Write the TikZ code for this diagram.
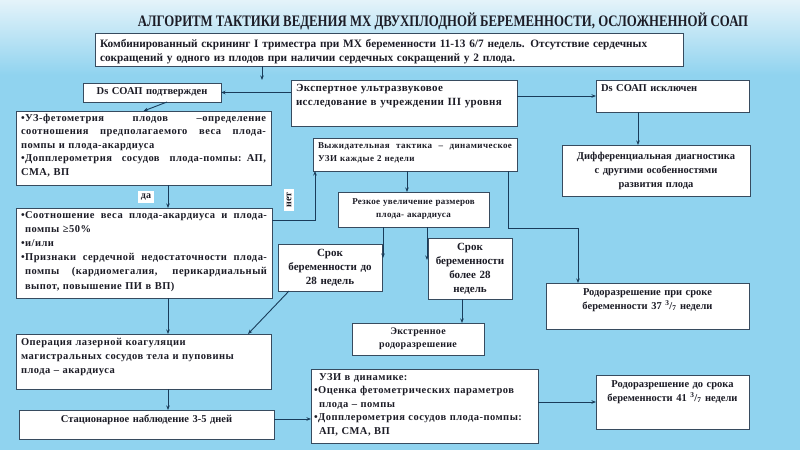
\documentclass[tikz,border=0pt]{standalone}
\usepackage{fontspec}
\setmainfont{Liberation Serif}
\newfontfamily\titlefont{Liberation Serif}[FakeStretch=0.8]
\usetikzlibrary{arrows.meta,calc}
\definecolor{bgblue}{RGB}{144,211,239}
\definecolor{bglight}{RGB}{228,243,250}
\definecolor{edge}{RGB}{55,75,95}
\definecolor{arr}{RGB}{25,60,90}
\definecolor{ink}{RGB}{28,28,38}
\newcommand\jline[2][0pt]{\leavevmode\hbox to \dimexpr\mytw pt-#1\relax{\spaceskip=.28em plus 1fil\relax #2}}
\newcommand\mkbox[8]{%
  \pgfmathsetmacro\mybw{#4-#2}\pgfmathsetmacro\mybh{#5-#3}\pgfmathsetmacro\mytw{#4-#2-10}%
  \node[boxst, minimum width=\mybw pt, minimum height=\mybh pt, anchor=north west] (#1) at (#2,#3) {};
  \node[txt, text width=\mytw pt, anchor=#6, #7] (#1-t) at (#1.#6) {#8};}
\begin{document}
\begin{tikzpicture}[x=1pt,y=-1pt,
  boxst/.style={draw=edge, line width=0.7pt, fill=white, inner sep=0pt, outer sep=0pt},
  txt/.style={inner sep=0pt, font=\bfseries\fontsize{10}{13}\selectfont, text=ink, align=left},
  spaced/.style={font=\bfseries\fontsize{10.5}{#1}\selectfont\addfontfeature{LetterSpace=4.5}},
  conn/.style={draw=arr, line width=0.9pt, -{Stealth[length=4.5pt,width=3.5pt]}},
  lbl/.style={fill=white, inner sep=3pt, text=ink, font=\bfseries\fontsize{10}{11}\selectfont}]
\fill[bgblue] (0,0) rectangle (800,450);
\shade[top color=bglight, bottom color=bgblue] (0,0) rectangle (800,75);
\useasboundingbox (0,0) rectangle (800,450);

\node[text=ink, font=\titlefont\bfseries\fontsize{16}{18}\selectfont] (title) at (443,21)
  {АЛГОРИТМ ТАКТИКИ ВЕДЕНИЯ МХ ДВУХПЛОДНОЙ БЕРЕМЕННОСТИ, ОСЛОЖНЕННОЙ СОАП};

\mkbox{screen}{95}{33}{683}{66}{north}{yshift=-6pt, font=\bfseries\fontsize{11.3}{14}\selectfont}
  {Комбинированный скрининг I триместра при МХ беременности 11-13 6/7 недель. Отсутствие сердечных\\сокращений у одного из плодов при наличии сердечных сокращений у 2 плода.}
\mkbox{expert}{291}{80}{517}{126}{north}{yshift=-4pt, font=\bfseries\fontsize{11}{14}\selectfont\addfontfeature{LetterSpace=3.5}}
  {Экспертное ультразвуковое\\исследование в учреждении III уровня}
\mkbox{dsy}{83}{83}{221}{102}{center}{align=center, font=\bfseries\fontsize{10.5}{13}\selectfont}
  {Ds СОАП подтвержден}
\mkbox{dsn}{596}{80}{749}{112}{north}{yshift=-4pt, font=\bfseries\fontsize{10.5}{13}\selectfont}
  {Ds СОАП исключен}
\mkbox{diff}{562}{145}{750}{196}{center}{align=center, font=\bfseries\fontsize{10.5}{14}\selectfont}
  {Дифференциальная диагностика\\с другими особенностями\\развития плода}
\mkbox{uz}{16}{111}{271}{185}{north}{yshift=-3pt, spaced=13.5}
  {\jline{•УЗ-фетометрия плодов –определение}\\
   \jline{соотношения предполагаемого веса плода-}\\
   помпы и плода-акардиуса\\
   \jline{•Допплерометрия сосудов плода-помпы: АП,}\\
   СМА, ВП}
\mkbox{ratio}{16}{208}{272}{298}{north}{yshift=-3pt, spaced=14.2}
  {\jline{•Соотношение веса плода-акардиуса и плода-}\\
   \hspace*{4pt}помпы ≥50\%\\
   •и/или\\
   \jline{•Признаки сердечной недостаточности плода-}\\
   \hspace*{4pt}\jline[4pt]{помпы (кардиомегалия, перикардиальный}\\
   \hspace*{4pt}выпот, повышение ПИ в ВП)}
\mkbox{wait}{313}{138}{517}{171}{north}{yshift=-4pt, font=\bfseries\fontsize{9}{13}\selectfont\addfontfeature{LetterSpace=5}}
  {\jline{Выжидательная тактика – динамическое}\\УЗИ каждые 2 недели}
\mkbox{sharp}{338}{192}{489}{227}{center}{align=center, font=\bfseries\fontsize{9}{13}\selectfont\addfontfeature{LetterSpace=3}}
  {Резкое увеличение размеров\\плода- акардиуса}
\mkbox{lt28}{278}{244}{382}{291}{center}{align=center, font=\bfseries\fontsize{11}{14}\selectfont}
  {Срок\\беременности до\\28 недель}
\mkbox{gt28}{428}{238}{512}{299}{center}{align=center, font=\bfseries\fontsize{11}{14}\selectfont}
  {Срок\\беременности\\более 28\\недель}
\mkbox{emerg}{352}{323}{484}{355}{center}{align=center, font=\bfseries\fontsize{10}{13}\selectfont\addfontfeature{LetterSpace=3}}
  {Экстренное\\родоразрешение}
\mkbox{dlate}{546}{283}{749}{329}{north}{yshift=-5pt, align=center, font=\bfseries\fontsize{10.5}{14}\selectfont}
  {Родоразрешение при сроке\\беременности 37 \textsuperscript{3}/\textsubscript{7} недели}
\mkbox{laser}{16}{334}{271}{389}{north}{yshift=-4pt, spaced=14}
  {Операция лазерной коагуляции\\магистральных сосудов тела и пуповины\\плода – акардиуса}
\mkbox{stat}{19}{410}{274}{439}{north}{yshift=-5pt, align=center, font=\bfseries\fontsize{10.5}{13}\selectfont}
  {Стационарное наблюдение 3-5 дней}
\mkbox{uzi}{311}{369}{538}{443}{north}{yshift=-4pt, xshift=-2pt, spaced=13.5}
  {\hspace*{5pt}УЗИ в динамике:\\
   •Оценка фетометрических параметров\\
   \hspace*{5pt}плода – помпы\\
   •Допплерометрия сосудов плода-помпы:\\
   \hspace*{5pt}АП, СМА, ВП}
\mkbox{dfinal}{596}{375}{749}{429}{north}{yshift=-5pt, align=center, font=\bfseries\fontsize{10.5}{14}\selectfont}
  {Родоразрешение до срока\\беременности 41 \textsuperscript{3}/\textsubscript{7} недели}

% helper coordinates
\coordinate (c262) at (262,0);
\coordinate (c638) at (638,0);
\coordinate (c168) at (168,0);
\coordinate (c407) at (407,0);
\coordinate (c508) at (508,0);
\coordinate (c462) at (462,0);
\coordinate (k1) at (578,228);
\coordinate (n1) at (272,220);
\coordinate (a383) at (383,258);
\coordinate (a427) at (427,260);
\coordinate (s1) at (0,419);

\draw[conn] (screen.south -| c262) -- (expert.north -| c262);
\draw[conn] (expert.west |- dsy.east) -- (dsy.east);
\draw[conn] (expert.east |- dsn.west) -- (dsn.west);
\draw[conn] (dsn.south -| c638) -- (diff.north -| c638);
\draw[conn] ([xshift=15pt]dsy.south) -- (uz.north);
\draw[conn] (uz.south -| c168) -- (ratio.north -| c168);
\draw[conn] (n1) -| ([xshift=2pt]wait.south west);
\draw[conn] (wait.south -| c407) -- (sharp.north -| c407);
\draw[conn] (wait.south -| c508) |- (k1) -- (dlate.north -| k1);
\draw[conn] (sharp.south -| a383) -- (a383);
\draw[conn] (sharp.south -| a427) -- (a427);
\draw[conn] (gt28.south -| c462) -- (emerg.north -| c462);
\draw[conn] ([xshift=11pt]lt28.south west) -- ([xshift=-23pt]laser.north east);
\draw[conn] (ratio.south -| c168) -- (laser.north -| c168);
\draw[conn] (laser.south -| c168) -- (stat.north -| c168);
\draw[conn] (stat.east |- s1) -- (uzi.west |- s1);
\draw[conn] (uzi.east |- dfinal.west) -- (dfinal.west);

\node[lbl] (yes) at (146,197) {да};
\node[lbl, rotate=90] (no) at (289,200) {нет};
\end{tikzpicture}
\end{document}
